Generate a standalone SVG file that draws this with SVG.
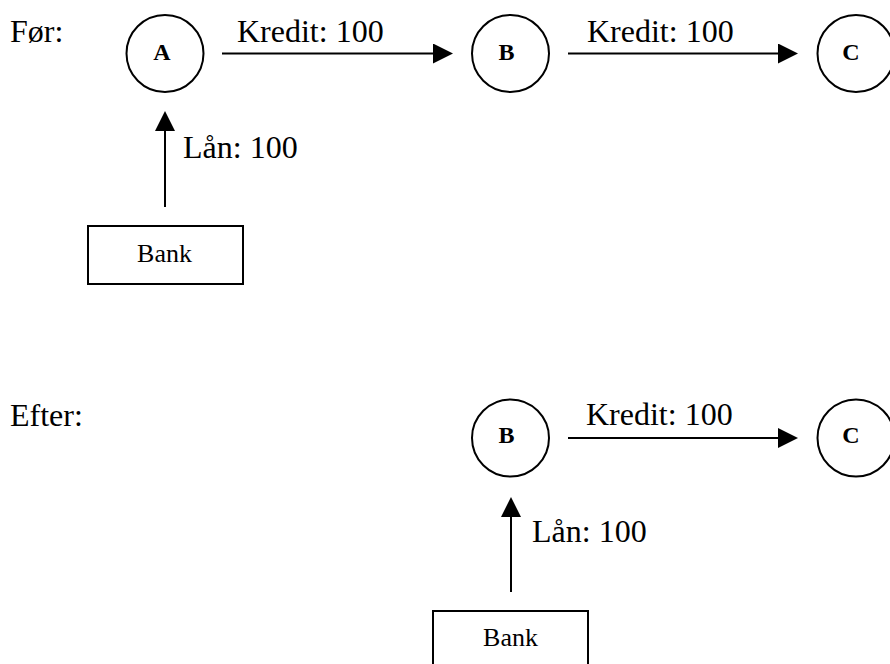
<svg xmlns="http://www.w3.org/2000/svg" width="890" height="664" viewBox="0 0 890 664">
  <style>
    .lbl { font-family: "Liberation Serif", "Times New Roman", serif; font-size: 32px; fill: #000; }
    .nodeTxt { font-family: "Liberation Serif", "Times New Roman", serif; font-size: 24px; font-weight: bold; fill: #000; text-anchor: middle; }
    .bankTxt { font-family: "Liberation Serif", "Times New Roman", serif; font-size: 26px; fill: #000; text-anchor: middle; }
    .shape { fill: #fff; stroke: #000; stroke-width: 2; }
    .conn { stroke: #000; stroke-width: 2; fill: none; }
  </style>
  <defs>
    <marker id="head" markerUnits="userSpaceOnUse" markerWidth="20" markerHeight="20" viewBox="0 0 20 20" refX="0" refY="10" orient="auto">
      <path d="M0,0 L20,10 L0,20 Z" fill="#000"/>
    </marker>
  </defs>
  <rect width="890" height="664" fill="#fff"/>

  <text class="lbl" x="10" y="42">Før:</text>
  <text class="lbl" x="10" y="426">Efter:</text>

  <g id="connectors">
    <line class="conn" x1="222" y1="53.5" x2="433" y2="53.5" marker-end="url(#head)"/>
    <line class="conn" x1="568" y1="53.5" x2="778" y2="53.5" marker-end="url(#head)"/>
    <line class="conn" x1="165" y1="207" x2="165" y2="131" marker-end="url(#head)"/>
    <line class="conn" x1="568" y1="438" x2="778" y2="438" marker-end="url(#head)"/>
    <line class="conn" x1="511" y1="592" x2="511" y2="517" marker-end="url(#head)"/>
    <text class="lbl" x="237" y="41.7">Kredit: 100</text>
    <text class="lbl" x="587" y="41.7">Kredit: 100</text>
    <text class="lbl" x="183" y="158">Lån: 100</text>
    <text class="lbl" x="586" y="425">Kredit: 100</text>
    <text class="lbl" x="532" y="542">Lån: 100</text>
  </g>

  <g id="nodeA1">
    <circle class="shape" cx="165" cy="53.5" r="38.5"/>
    <text class="nodeTxt" x="162" y="60">A</text>
  </g>
  <g id="nodeB1">
    <circle class="shape" cx="510.5" cy="53.5" r="38.5"/>
    <text class="nodeTxt" x="506.5" y="60">B</text>
  </g>
  <g id="nodeC1">
    <circle class="shape" cx="856" cy="53.5" r="38.5"/>
    <text class="nodeTxt" x="851" y="60">C</text>
  </g>
  <g id="bank1">
    <rect class="shape" x="88" y="226" width="155" height="58"/>
    <text class="bankTxt" x="164.5" y="262">Bank</text>
  </g>

  <g id="nodeB2">
    <circle class="shape" cx="510.5" cy="438" r="38.5"/>
    <text class="nodeTxt" x="506.5" y="443">B</text>
  </g>
  <g id="nodeC2">
    <circle class="shape" cx="856" cy="438" r="38.5"/>
    <text class="nodeTxt" x="851" y="443">C</text>
  </g>
  <g id="bank2">
    <rect class="shape" x="433" y="611" width="155" height="58"/>
    <text class="bankTxt" x="510.5" y="646">Bank</text>
  </g>
</svg>
